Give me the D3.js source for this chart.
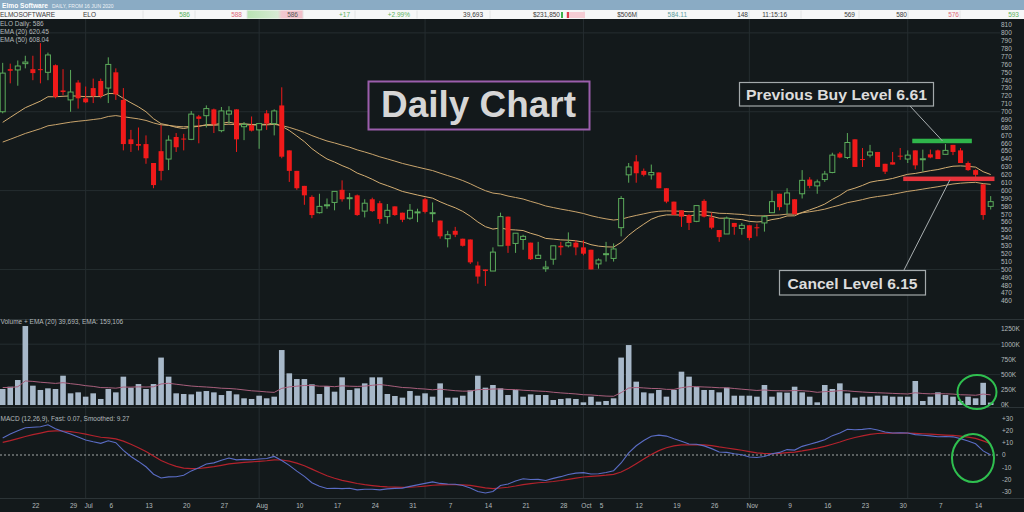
<!DOCTYPE html>
<html><head><meta charset="utf-8">
<script src="https://cdn.jsdelivr.net/npm/d3@7"></script>
<style>html,body{margin:0;padding:0;background:#13191b;overflow:hidden}text{font-family:"Liberation Sans",Arial,sans-serif}</style>
</head><body><svg id="c" width="1024" height="512"></svg>
<script>
// ---------- DATA ----------
const openP = [700,754,753,761,754,754,750,759,727,715,
737,717,730,739,730,750,715,665,659,659,
635,650,640,668,666,665,694,695,703,676,
697,703,681,683,677,698,685,708,651,625,
606,592,572,581,585,601,590,594,574,589,
584,567,580,572,565,572,589,571,562,539,
549,539,538,505,500,498,530,567,533,538,
534,514,501,513,530,530,534,528,525,507,
519,514,553,620,637,625,620,623,603,586,
575,569,561,587,566,550,545,559,552,556,
553.5,559,572,596,583,589,596,614,606,614,
623,647,642,665,640,645,649,634,636,644.3,
640,651,640,646,651,646,658,651,635,626,
608,580];
const highP = [762,761,765,771,771,787,775,760,754,753,
740,732,742,742,769,755,730,677,680,670,
635,683,670,673,672,701,696,708,704,706,
707,703,687,694,685,702,703,731,651,625,
606,594,596,590,599,613,597,595,589,591,
587,583,580,572,583,577,591,585,562,549,
554,539,538,510,500,528,572,567,546,544,
534,535,511,530,535,547,537,537,525,514,
535,533,593,635,645,628,633,623,603,586,
575,570,581,589,572,550,567,559,559,556,
558,569,600,596,603,589,626,617,614,625,
648,649,673,665,654,658,649,634,649,654,
651,651,652,652,652,659,658,654,637,627,
608,593];
const lowP = [698,736,733,755,740,736,740,717,721,700,
704,711,711,717,711,715,651,649,651,634,
603,613,626,649,651,664,660,680,673,674,
685,649,664,675,653,677,670,641,611,601,
582,565,571,577,575,586,576,568,566,573,
558,558,568,560,563,560,571,560,539,528,
541,529,507,482,479,498,530,521,521,525,
512,514,497,506,518,528,518,518,500,501,
510,510,542,610,610,618,614,603,584,569,
554,550,560,566,551,535,545,544,544,537,
542,548,572,575,570,570,590,603,596,611,
622,641,640,630,630,642,630,621,633,639,
635,627,624,641,640,646,645,635,625,616,
563,576];
const closeP = [749,752,758,763,749,753,772,719,725,725,
717,712,720,720,760,722,659,659,657,641,
607,625,664,655,665,697,691,704,684,701,
701,665,684,676,685,685,701,643,625,603,
594,569,580,582,599,589,591,569,584,574,
564,575,569,563,575,573,573,572,542,544,
544,530,509,491,498,522,567,530,546,542,
513,518,503,530,528,534,528,520,500,512,
520,526,590,630,622,620,623,603,586,569,
567,559,581,567,553,541,565,554,556,540,
553,567,586,579,597,570,613,606,611,621,
645,642,661,630,639.5,649,630,624,633,643.8,
645,632,640.4,642,640,651,649,635,626,620,
569,586];
const volumeK = [263,301,411,1299,318,247,274,263,482,192,
208,137,192,99,263,208,466,285,345,263,
345,780,466,192,181,175,219,230,208,164,
230,175,110,99,153,110,137,904,521,427,
427,340,181,312,219,455,247,274,356,455,
455,181,148,121,230,153,192,137,356,121,
121,153,241,482,285,329,274,164,247,137,
175,164,164,82,99,110,99,44,137,55,
66,110,780,986,384,208,192,247,137,247,
548,466,301,247,247,208,285,153,153,153,
137,329,137,208,203,301,208,137,44,329,
263,356,192,121,137,137,153,153,137,137,
137,395,66,137,208,164,137,66,137,110,
365,40];
// indicator seeds (indicator values just before the first visible day)
const ema20Seed = 680, ema50Seed = 658, ema12Seed = 690, ema26Seed = 680, signalSeed = 9.5, volEmaSeed = 290;
const tickIdx = [4,9,11,14,19,24,29,34,39,44,49,54,59,64,69,74,77,79,84,89,94,99,104,109,114,119,124,129];
const tickLabels = ["22","29","Jul","6","13","20","27","Aug","10","17","24","31","7","14","21","28","Oct","5","12","19","26","Nov","9","16","23","30","7","14"];
const monthIdx = [11,34,56,77,99,120];
const priceTicks = [460,470,480,490,500,510,520,530,540,550,560,570,580,590,600,610,620,630,640,650,660,670,680,690,700,710,720,730,740,750,760,770,780,790,800,810];
const priceGrid = [500,600,700,800];
const volTicks = [0,250,500,750,1000,1250];
const volTickLabels = ["0K","250K","500K","750K","1000K","1250K"];
const macdTicks = [30,20,10,0,-10,-20,-30];
const macdTickLabels = ["+30","+20","+10","0","-10","-20","-30"];
const buyLevel = 663, cancelLevel = 615;

// ---------- helpers ----------
function ema(vals, period, seed){ const k = 2/(period+1); let p = seed; return vals.map(v => (p = p + (v - p)*k)); }
const ema20 = ema(closeP,20,ema20Seed), ema50 = ema(closeP,50,ema50Seed);
const ema12 = ema(closeP,12,ema12Seed), ema26 = ema(closeP,26,ema26Seed);
const macd = ema12.map((v,i)=>v-ema26[i]);
const signal = ema(macd,9,signalSeed);
const volEma = ema(volumeK,20,volEmaSeed);

const svg = d3.select('#c');
const n = closeP.length;
const x = d3.scaleLinear().domain([0,n-1]).range([2.7,990.7]);
const y = d3.scaleLinear().domain([460,810]).range([301,25]);
const yv = d3.scaleLinear().domain([0,1250]).range([405,329]);
const ym = d3.scaleLinear().domain([-30,30]).range([491.6,418.4]);
const idx = d3.range(n);
const BG = '#13191b', GRID = '#252d30', AX = '#b4b9bb';

svg.append('rect').attr('width',1024).attr('height',512).attr('fill',BG);

// grid
svg.append('g').selectAll('line').data(priceGrid).join('line')
  .attr('x1',0).attr('x2',1000).attr('y1',d=>y(d)).attr('y2',d=>y(d)).attr('stroke',GRID).attr('stroke-width',1);
svg.append('line').attr('x1',0).attr('x2',1000).attr('y1',yv(1000)).attr('y2',yv(1000)).attr('stroke',GRID);
svg.append('line').attr('x1',0).attr('x2',1000).attr('y1',yv(500)).attr('y2',yv(500)).attr('stroke',GRID);
svg.append('g').selectAll('line').data(monthIdx).join('line')
  .attr('x1',d=>x(d)).attr('x2',d=>x(d)).attr('y1',19).attr('y2',498).attr('stroke',GRID);
// panel separators
[319.5,407.5,498.5].forEach(v=>svg.append('line').attr('x1',0).attr('x2',1024).attr('y1',v).attr('y2',v).attr('stroke','#2c3437'));

// EMA lines
const pl = d3.line().x((d,i)=>x(i));
svg.append('path').datum(ema50).attr('d',pl.y(d=>y(d))).attr('fill','none').attr('stroke','#c9a46c').attr('stroke-width',1);
svg.append('path').datum(ema20).attr('d',pl.y(d=>y(d))).attr('fill','none').attr('stroke','#d4ae72').attr('stroke-width',1);

// candles
const RED='#f01a1a', GREEN='#5bab5b';
const cg = svg.append('g').selectAll('g').data(idx).join('g');
cg.append('line').attr('x1',i=>x(i)).attr('x2',i=>x(i)).attr('y1',i=>y(highP[i])).attr('y2',i=>y(lowP[i]))
  .attr('stroke',i=>closeP[i]>=openP[i]?GREEN:RED).attr('stroke-width',1);
cg.append('rect').attr('x',i=>x(i)-2.5).attr('width',5)
  .attr('y',i=>y(Math.max(openP[i],closeP[i])))
  .attr('height',i=>Math.max(1,Math.abs(y(openP[i])-y(closeP[i]))))
  .attr('fill',i=>closeP[i]>=openP[i]?BG:RED)
  .attr('stroke',i=>closeP[i]>=openP[i]?GREEN:'none').attr('stroke-width',1);

// volume
svg.append('g').selectAll('rect').data(idx).join('rect')
  .attr('x',i=>x(i)-2.8).attr('width',5.6).attr('y',i=>yv(volumeK[i])).attr('height',i=>yv(0)-yv(volumeK[i]))
  .attr('fill','#a7b8c9');
svg.append('path').datum(volEma).attr('d',pl.y(d=>yv(d))).attr('fill','none').attr('stroke','#a85f7c').attr('stroke-width',1);

// MACD
svg.append('line').attr('x1',0).attr('x2',1000).attr('y1',ym(0)).attr('y2',ym(0)).attr('stroke','#c8cccc').attr('stroke-width',0.8).attr('stroke-dasharray','2,2');
svg.append('path').datum(signal).attr('d',pl.y(d=>ym(d))).attr('fill','none').attr('stroke','#b3222c').attr('stroke-width',1.2);
svg.append('path').datum(macd).attr('d',pl.y(d=>ym(d))).attr('fill','none').attr('stroke','#5a6cc4').attr('stroke-width',1.1);

// axes labels
const small = s => s.attr('font-size',6.5).attr('fill',AX);
svg.append('g').selectAll('text').data(priceTicks).join('text').call(small)
  .attr('x',1001).attr('y',d=>y(d)+2.3).text(d=>d);
svg.append('g').selectAll('text').data(volTicks).join('text').call(small)
  .attr('x',1001).attr('y',d=>yv(d)+2.3).text((d,i)=>volTickLabels[i]);
svg.append('g').selectAll('text').data(macdTicks).join('text').call(small)
  .attr('x',1002).attr('y',d=>ym(d)+2.3).text((d,i)=>macdTickLabels[i]);
svg.append('g').selectAll('text').data(tickIdx).join('text').call(small)
  .attr('x',d=>x(d)+3).attr('y',507.5).attr('text-anchor','middle').text((d,i)=>tickLabels[i]);

// legends
svg.append('text').call(small).attr('x',0).attr('y',25.5).text('ELO Daily: 586');
svg.append('text').call(small).attr('x',0).attr('y',33.5).text('EMA (20) 620.45');
svg.append('text').call(small).attr('x',0).attr('y',41.5).text('EMA (50) 608.04');
svg.append('text').call(small).attr('x',0.5).attr('y',324).text('Volume + EMA (20) 39,693, EMA: 159,106');
svg.append('text').call(small).attr('x',0.5).attr('y',421).text('MACD (12,26,9), Fast: 0.07, Smoothed: 9.27');

// header
svg.append('rect').attr('x',0).attr('y',0).attr('width',1024).attr('height',10).attr('fill','#8aabc4');
svg.append('text').attr('x',2).attr('y',8).attr('font-size',7.5).attr('font-weight','bold').attr('fill','#ffffff')
  .attr('textLength',46).attr('lengthAdjust','spacingAndGlyphs').text('Elmo Software');
svg.append('text').attr('x',52).attr('y',7.6).attr('font-size',5).attr('fill','#eef3f7').text('DAILY, FROM 16 JUN 2020');
svg.append('rect').attr('x',0).attr('y',10).attr('width',1024).attr('height',9).attr('fill','#f6f7f7');
const grad = svg.append('defs').append('linearGradient').attr('id','gq');
grad.append('stop').attr('offset','0').attr('stop-color','#b9e4b3');
grad.append('stop').attr('offset','0.55').attr('stop-color','#d7ead3');
grad.append('stop').attr('offset','0.62').attr('stop-color','#f3c8cf');
grad.append('stop').attr('offset','1').attr('stop-color','#f1c0c9');
svg.append('rect').attr('x',247).attr('y',10.5).attr('width',56).attr('height',8).attr('fill','url(#gq)');
[143,195,247,303,355,417,490,584,637,674,749,801,859,908,960].forEach(v=>svg.append('line').attr('x1',v).attr('x2',v).attr('y1',10.5).attr('y2',18.5).attr('stroke','#e2e4e4'));
svg.append('rect').attr('x',561).attr('y',12).attr('width',2).attr('height',6).attr('fill','#3fb04a');
svg.append('rect').attr('x',566).attr('y',12).attr('width',19).attr('height',6).attr('fill','#f5cdd4');
svg.append('rect').attr('x',567).attr('y',12).attr('width',2).attr('height',6).attr('fill','#e0404e');
const hdr = [['ELMOSOFTWARE',0,'start','#3a3a3a'],['ELO',83,'start','#3a3a3a'],['586',190,'end','#5cb25c'],['588',242,'end','#de6a7a'],
 ['586',298,'end','#555555'],['+17',350,'end','#5cb25c'],['+2.99%',410,'end','#5cb25c'],['39,693',483,'end','#3a3a3a'],
 ['$231,850',560,'end','#3a3a3a'],['$506M',637,'end','#3a3a3a'],['584.11',687,'end','#5f9ea0'],['148',748,'end','#3a3a3a'],
 ['11:15:16',787,'end','#3a3a3a'],['569',855,'end','#3a3a3a'],['580',907,'end','#3a3a3a'],['576',959,'end','#de6a7a'],['593',1019,'end','#5cb25c']];
svg.append('g').selectAll('text').data(hdr).join('text').attr('x',d=>d[1]).attr('y',17).attr('text-anchor',d=>d[2])
  .attr('font-size',6.5).attr('fill',d=>d[3]).text(d=>d[0]);

// annotations
svg.append('rect').attr('x',368.5).attr('y',81.5).attr('width',221).attr('height',48).attr('fill',BG).attr('stroke','#9b5eac').attr('stroke-width',2);
svg.append('text').attr('x',381).attr('y',117).attr('font-size',37).attr('font-weight','bold').attr('fill','#d6d6d6')
  .attr('textLength',195).attr('lengthAdjust','spacingAndGlyphs').text('Daily Chart');

svg.append('rect').attr('x',x(120.6)).attr('y',y(buyLevel)-2.2).attr('width',x(128.5)-x(120.6)).attr('height',4.5).attr('fill','#2fb64b');
svg.append('rect').attr('x',x(119.4)).attr('y',y(cancelLevel)-2.2).attr('width',x(131.5)-x(119.4)).attr('height',4.5).attr('fill','#e6333b');

svg.append('line').attr('x1',910).attr('y1',106).attr('x2',x(124.6)).attr('y2',y(buyLevel)).attr('stroke','#aab0b2').attr('stroke-width',1);
svg.append('line').attr('x1',x(125.6)).attr('y1',y(cancelLevel)+1).attr('x2',904).attr('y2',270).attr('stroke','#aab0b2').attr('stroke-width',1);

svg.append('rect').attr('x',739.5).attr('y',82.5).attr('width',194).attr('height',23.5).attr('fill',BG).attr('stroke','#a3a9ab').attr('stroke-width',1.2);
svg.append('text').attr('x',746).attr('y',99.5).attr('font-size',15).attr('font-weight','bold').attr('fill','#dcdcdc')
  .attr('textLength',181).attr('lengthAdjust','spacingAndGlyphs').text('Previous Buy Level 6.61');
svg.append('rect').attr('x',779.5).attr('y',270.5).attr('width',146).attr('height',24.5).attr('fill',BG).attr('stroke','#a3a9ab').attr('stroke-width',1.2);
svg.append('text').attr('x',787.5).attr('y',288.5).attr('font-size',15).attr('font-weight','bold').attr('fill','#dcdcdc')
  .attr('textLength',130).attr('lengthAdjust','spacingAndGlyphs').text('Cancel Level 6.15');

svg.append('ellipse').attr('cx',977).attr('cy',392).attr('rx',19.5).attr('ry',17).attr('fill','none').attr('stroke','#2fbf4f').attr('stroke-width',2);
svg.append('ellipse').attr('cx',973).attr('cy',458).attr('rx',21).attr('ry',24).attr('fill','none').attr('stroke','#2fbf4f').attr('stroke-width',2);
</script></body></html>
